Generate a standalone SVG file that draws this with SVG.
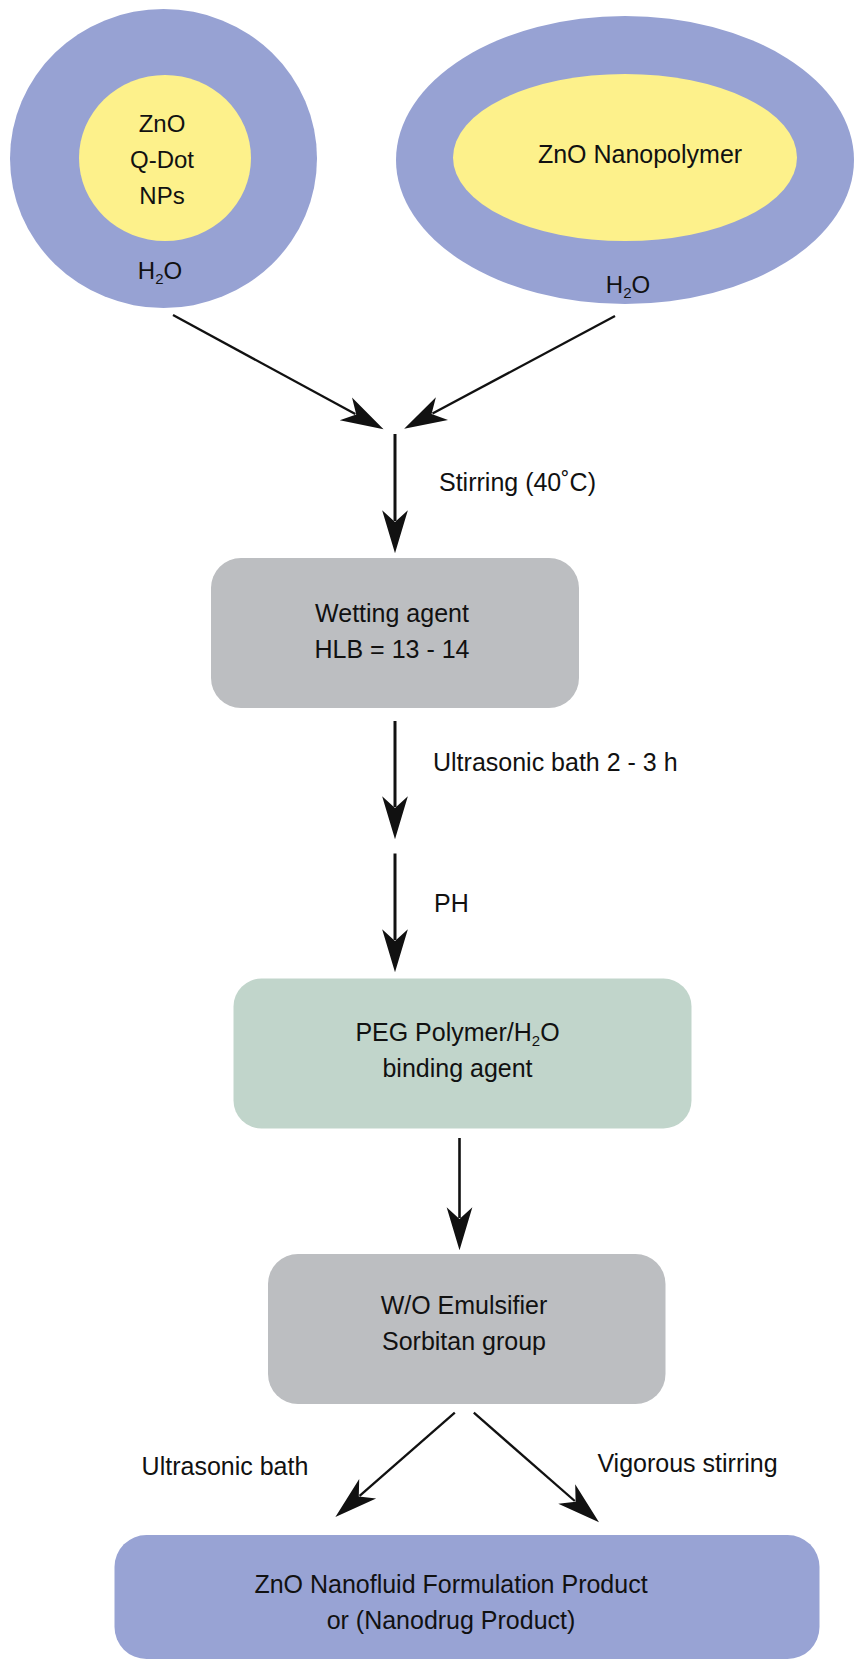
<svg xmlns="http://www.w3.org/2000/svg" width="854" height="1659" viewBox="0 0 854 1659">
<defs>
<style>
text{font-family:"Liberation Sans",Arial,sans-serif;fill:#111;}
.t{font-size:25px;}
.c{font-size:24px;text-anchor:middle;}
.m{font-size:25px;text-anchor:middle;}
.sub{font-size:15px;}
.water{fill:#97a2d3;}
.core{fill:#fdf18b;}
.grey{fill:#bcbec1;}
.green{fill:#c1d5cb;}
.blue{fill:#98a3d4;}
.conn{stroke:#111;fill:none;}
</style>
<marker id="ah" markerUnits="userSpaceOnUse" markerWidth="50" markerHeight="30" viewBox="-12 -14 44 28" refX="0" refY="0" orient="auto">
<path d="M30,0 L-10,-12 L1,0 L-10,12 Z" fill="#111"/>
</marker>
</defs>
<rect width="854" height="1659" fill="#ffffff"/>
<g id="qdot">
<ellipse class="water" cx="163.5" cy="158.5" rx="153.5" ry="149.5"/>
<ellipse class="core" cx="165" cy="158" rx="86" ry="83"/>
<text class="c" x="162" y="132">ZnO</text>
<text class="c" x="162" y="168">Q-Dot</text>
<text class="c" x="162" y="204">NPs</text>
<text class="c" x="160" y="279">H<tspan class="sub" dy="5">2</tspan><tspan dy="-5">O</tspan></text>
</g>
<g id="nanopolymer">
<ellipse class="water" cx="625" cy="160" rx="229" ry="144"/>
<ellipse class="core" cx="625" cy="157.5" rx="172" ry="83.5"/>
<text class="m" x="640" y="163">ZnO Nanopolymer</text>
<text class="c" x="628" y="293">H<tspan class="sub" dy="5">2</tspan><tspan dy="-5">O</tspan></text>
</g>
<g id="wetting">
<rect class="grey" x="211" y="558" width="368" height="150" rx="30"/>
<text class="m" x="392" y="622">Wetting agent</text>
<text class="m" x="392" y="658">HLB = 13 - 14</text>
</g>
<g id="peg">
<rect class="green" x="233.5" y="978.5" width="458" height="150" rx="28"/>
<text class="m" x="457.5" y="1041">PEG Polymer/H<tspan class="sub" dy="5">2</tspan><tspan dy="-5">O</tspan></text>
<text class="m" x="457.5" y="1077">binding agent</text>
</g>
<g id="emulsifier">
<rect class="grey" x="268" y="1254" width="397.5" height="150" rx="30"/>
<text class="m" x="464" y="1314">W/O Emulsifier</text>
<text class="m" x="464" y="1350">Sorbitan group</text>
</g>
<g id="product">
<rect class="blue" x="114.5" y="1535" width="705" height="124" rx="32"/>
<text class="m" x="451" y="1593">ZnO Nanofluid Formulation Product</text>
<text class="m" x="451" y="1629">or (Nanodrug Product)</text>
</g>
<g id="connectors">
<line class="conn" stroke-width="2.3" x1="173" y1="315" x2="355.3" y2="414" marker-end="url(#ah)"/>
<line class="conn" stroke-width="2.3" x1="615" y1="316" x2="432.5" y2="413.6" marker-end="url(#ah)"/>
<line class="conn" stroke-width="3" x1="395" y1="434" x2="395" y2="521" marker-end="url(#ah)"/>
<line class="conn" stroke-width="3" x1="395" y1="721" x2="395" y2="807" marker-end="url(#ah)"/>
<line class="conn" stroke-width="3" x1="395" y1="853.5" x2="395" y2="940" marker-end="url(#ah)"/>
<line class="conn" stroke-width="2.6" x1="459.5" y1="1138" x2="459.5" y2="1218" marker-end="url(#ah)"/>
<line class="conn" stroke-width="2.3" x1="454.8" y1="1412.7" x2="359.6" y2="1495.8" marker-end="url(#ah)"/>
<line class="conn" stroke-width="2.3" x1="473.8" y1="1412.7" x2="574.8" y2="1501" marker-end="url(#ah)"/>
</g>
<g id="labels">
<text class="t" x="439" y="491">Stirring (40˚C)</text>
<text class="t" x="433" y="771">Ultrasonic bath 2 - 3 h</text>
<text class="t" x="434" y="912">PH</text>
<text class="t" x="141.6" y="1475">Ultrasonic bath</text>
<text class="t" x="597.4" y="1472">Vigorous stirring</text>
</g>
</svg>
